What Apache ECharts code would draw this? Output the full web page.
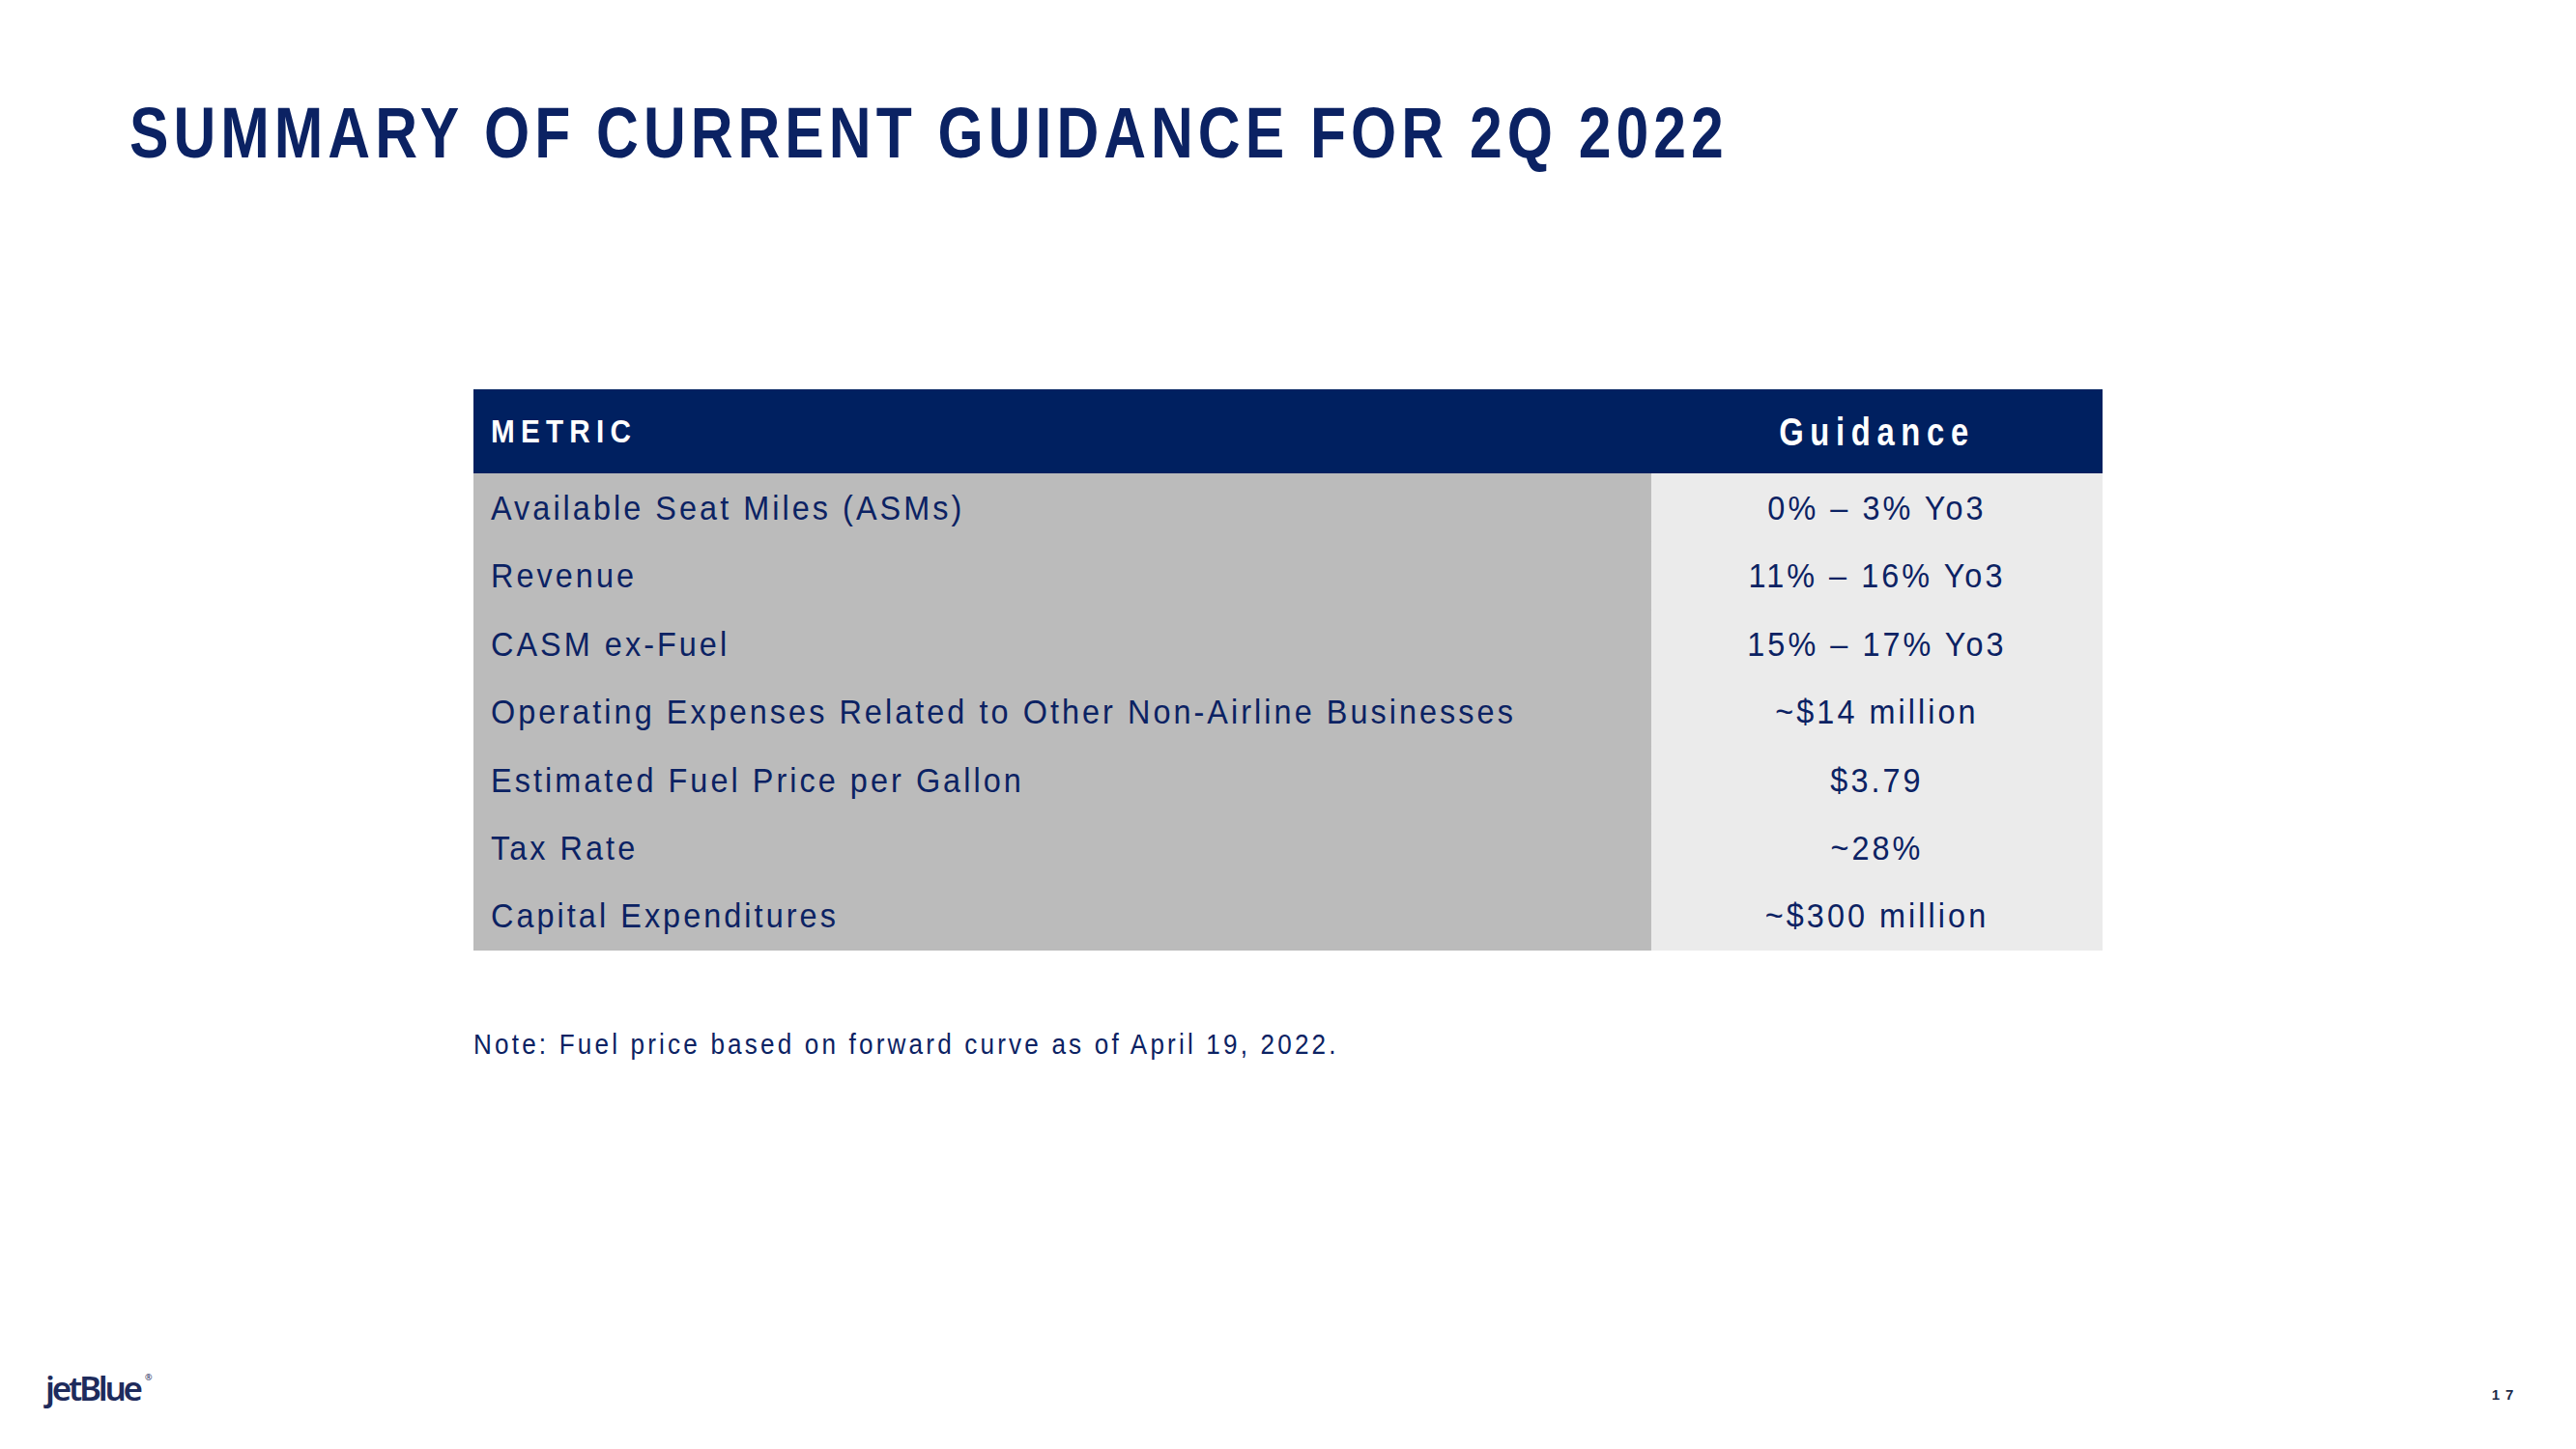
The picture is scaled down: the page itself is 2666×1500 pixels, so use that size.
<!DOCTYPE html>
<html>
<head>
<meta charset="utf-8">
<script src="https://cdn.jsdelivr.net/npm/echarts@6/dist/echarts.min.js"></script>
<style>
  html, body { margin: 0; padding: 0; background: #ffffff; }
  #chart { width: 2666px; height: 1500px; }
</style>
</head>
<body>
<div id="chart"></div>
<script>
// ---- data ----
const titleText = 'SUMMARY OF CURRENT GUIDANCE FOR 2Q 2022';
const headerCols = ['METRIC', 'Guidance'];
const metrics = [
  'Available Seat Miles (ASMs)',
  'Revenue',
  'CASM ex-Fuel',
  'Operating Expenses Related to Other Non-Airline Businesses',
  'Estimated Fuel Price per Gallon',
  'Tax Rate',
  'Capital Expenditures'
];
const guidance = [
  '0% \u2013 3% Yo3',
  '11% \u2013 16% Yo3',
  '15% \u2013 17% Yo3',
  '~$14 million',
  '$3.79',
  '~28%',
  '~$300 million'
];
const noteText = 'Note: Fuel price based on forward curve as of April 19, 2022.';
const pageNumber = '17';
const logoText = 'jetBlue';

// ---- style ----
const NAVY = '#0B2263';
const HEADER_BG = '#002060';
const LEFT_BG = '#BBBBBB';
const RIGHT_BG = '#EBEBEB';
const SANS = '"Liberation Sans", Arial, sans-serif';
const SQ = 0.82;     // horizontal squeeze for title / Guidance header
const SQ_ROW = 0.9;  // horizontal squeeze for table body text, METRIC, note
const SPLIT = 0.723; // column split as fraction of table width

// letter-spacing fitted by measuring natural width (SVG renderer + CSS)
const mctx = document.createElement('canvas').getContext('2d');
function fitSpacing(text, font, target, sq) {
  mctx.font = font;
  const w = mctx.measureText(text).width;
  return (target / sq - w) / Math.max(1, text.length - 1);
}
const spacing = {
  '74px': fitSpacing(titleText, 'bold 74px ' + SANS, 1651, SQ),
  '36px': fitSpacing(metrics[3], '36px ' + SANS, 1058, SQ_ROW),
  '33px': fitSpacing(headerCols[0], 'bold 33px ' + SANS, 145, SQ_ROW),
  '40px': fitSpacing(headerCols[1], 'bold 40px ' + SANS, 196, SQ),
  '29px': fitSpacing(noteText, '29px ' + SANS, 894, SQ_ROW),
  '35px': fitSpacing(logoText, '600 35px "Noto Sans", sans-serif', 101, 1),
  '15px': 6
};
let css = '';
for (const k in spacing) {
  css += 'text[style*="' + k + '"]{letter-spacing:' + spacing[k].toFixed(2) + 'px;}\n';
}
const st = document.createElement('style');
st.textContent = css;
document.head.appendChild(st);

const chart = echarts.init(document.getElementById('chart'), null, { renderer: 'svg', width: 2666, height: 1500 });

const tableData = metrics.map((m, i) => [0, i]);

function narrowText(x, y, text, font, fill, align, sq) {
  return {
    type: 'text', x: x, y: y, scaleX: sq,
    style: { text: text, fill: fill, font: font, textAlign: align, textVerticalAlign: 'middle' }
  };
}

const option = {
  animation: false,
  backgroundColor: '#ffffff',
  grid: { left: 490, right: 490, top: 490, bottom: 517 },
  xAxis: { type: 'value', min: 0, max: 1, show: false },
  yAxis: { type: 'category', data: metrics, inverse: true, show: false },
  graphic: [
    narrowText(134, 137, titleText, 'bold 74px ' + SANS, NAVY, 'left', SQ),
    { type: 'rect', shape: { x: 490, y: 403, width: 1686, height: 88 }, style: { fill: HEADER_BG } },
    narrowText(508, 447, headerCols[0], 'bold 33px ' + SANS, '#ffffff', 'left', SQ_ROW),
    narrowText(1942.5, 447.5, headerCols[1], 'bold 40px ' + SANS, '#ffffff', 'center', SQ),
    narrowText(490, 1081, noteText, '29px ' + SANS, NAVY, 'left', SQ_ROW),
    { type: 'text', x: 47, y: 1436, style: { text: logoText, fill: '#1E2B5C', font: '600 35px "Noto Sans", sans-serif', textVerticalAlign: 'middle', textAlign: 'left' } },
    { type: 'text', x: 150, y: 1425, style: { text: '\u00AE', fill: '#1E2B5C', font: '9px "Noto Sans", sans-serif', textVerticalAlign: 'middle', textAlign: 'left' } },
    { type: 'text', x: 2593, y: 1443, style: { text: pageNumber, fill: '#1B2A4A', font: 'bold 15px ' + SANS, textVerticalAlign: 'middle', textAlign: 'center' } }
  ],
  series: [{
    type: 'custom',
    coordinateSystem: 'cartesian2d',
    encode: { x: 0, y: 1 },
    data: tableData,
    silent: true,
    renderItem: function (params, api) {
      const i = api.value(1);
      const c0 = api.coord([0, i]);
      const cs = api.coord([SPLIT, i]);
      const c1 = api.coord([1, i]);
      const h = api.size([0, 1])[1];
      const top = c0[1] - h / 2;
      return {
        type: 'group',
        children: [
          { type: 'rect', shape: { x: c0[0], y: top, width: cs[0] - c0[0], height: h + 1 }, style: { fill: LEFT_BG } },
          { type: 'rect', shape: { x: cs[0], y: top, width: c1[0] - cs[0], height: h + 1 }, style: { fill: RIGHT_BG } },
          narrowText(c0[0] + 18, c0[1], metrics[i], '36px ' + SANS, NAVY, 'left', SQ_ROW),
          narrowText((cs[0] + c1[0]) / 2, c0[1], guidance[i], '36px ' + SANS, NAVY, 'center', SQ_ROW)
        ]
      };
    }
  }]
};
chart.setOption(option);
</script>
</body>
</html>
